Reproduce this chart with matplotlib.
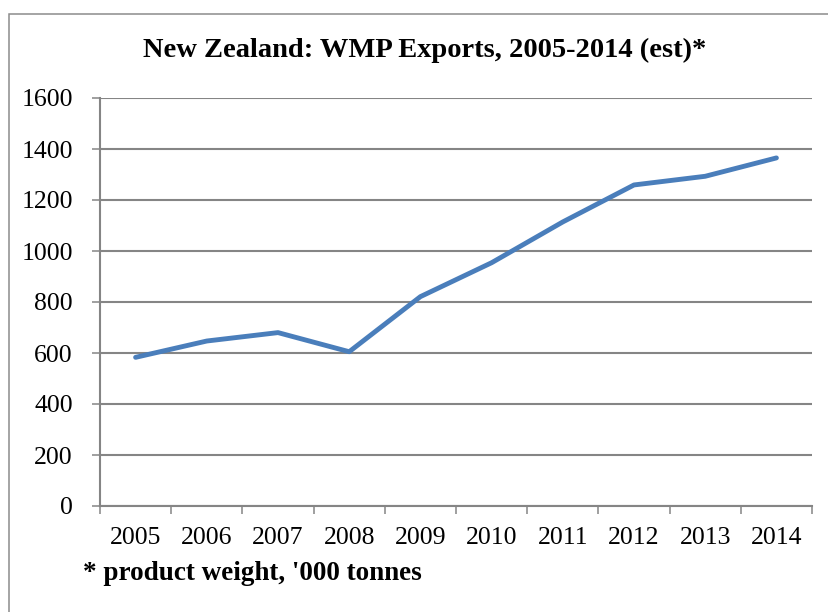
import matplotlib
matplotlib.use("Agg")
import matplotlib.pyplot as plt
from matplotlib.patches import Rectangle
from matplotlib.ticker import FixedLocator, NullFormatter, FixedFormatter

years = ["2005", "2006", "2007", "2008", "2009", "2010", "2011", "2012", "2013", "2014"]
exports = [583, 647, 680, 605, 821, 954, 1114, 1259, 1293, 1365]
y_ticks = [0, 200, 400, 600, 800, 1000, 1200, 1400, 1600]

title = "New Zealand: WMP Exports, 2005-2014 (est)*"
footnote = "* product weight, '000 tonnes"

plt.rcParams["font.family"] = ["Liberation Serif", "DejaVu Serif"]

W, H = 829, 612
fig = plt.figure(figsize=(W / 100, H / 100), dpi=100)
fig.patch.set_facecolor("white")

# chart frame (runs off the right and bottom edges)
fig.add_artist(Rectangle((9 / W, -0.05), 1.1, 1 - 14 / H + 0.05,
                         transform=fig.transFigure, fill=False,
                         edgecolor="#8c8c8c", linewidth=1.1))

ax = fig.add_axes([100 / W, 1 - 506 / H, (812 - 100) / W, (506 - 98) / H])
grey = "#858585"

n = len(years)
xs = [i + 0.5 for i in range(n)]
ax.plot(xs, exports, color="#4a7ebb", linewidth=3.5, solid_capstyle="round",
        solid_joinstyle="round", zorder=3)

ax.set_xlim(0, n)
ax.set_ylim(0, 1600)
ax.set_yticks(y_ticks)
ax.set_yticklabels([str(v) for v in y_ticks])
ax.grid(axis="y", color=grey, linewidth=1.5)
ax.set_axisbelow(True)

ax.xaxis.set_major_locator(FixedLocator(range(n + 1)))
ax.xaxis.set_major_formatter(NullFormatter())
ax.xaxis.set_minor_locator(FixedLocator(xs))
ax.xaxis.set_minor_formatter(FixedFormatter(years))
ax.tick_params(axis="x", which="major", length=5.5, width=1.1, color=grey,
               direction="out")
ax.tick_params(axis="x", which="minor", length=0, pad=15, labelsize=18.5)
ax.tick_params(axis="y", length=5.5, width=1.1, color=grey, direction="out",
               pad=14, labelsize=18.5)

for s in ["top", "right"]:
    ax.spines[s].set_visible(False)
for s in ["left", "bottom"]:
    ax.spines[s].set_color(grey)
    ax.spines[s].set_linewidth(1.5)

fig.text(425 / W, 1 - 50 / H, title, ha="center", va="center",
         fontsize=20.5, fontweight="bold")
fig.text(83 / W, 1 - 573 / H, footnote, ha="left", va="center",
         fontsize=19.5, fontweight="bold")

fig.savefig("out.png", dpi=100, facecolor="white")
